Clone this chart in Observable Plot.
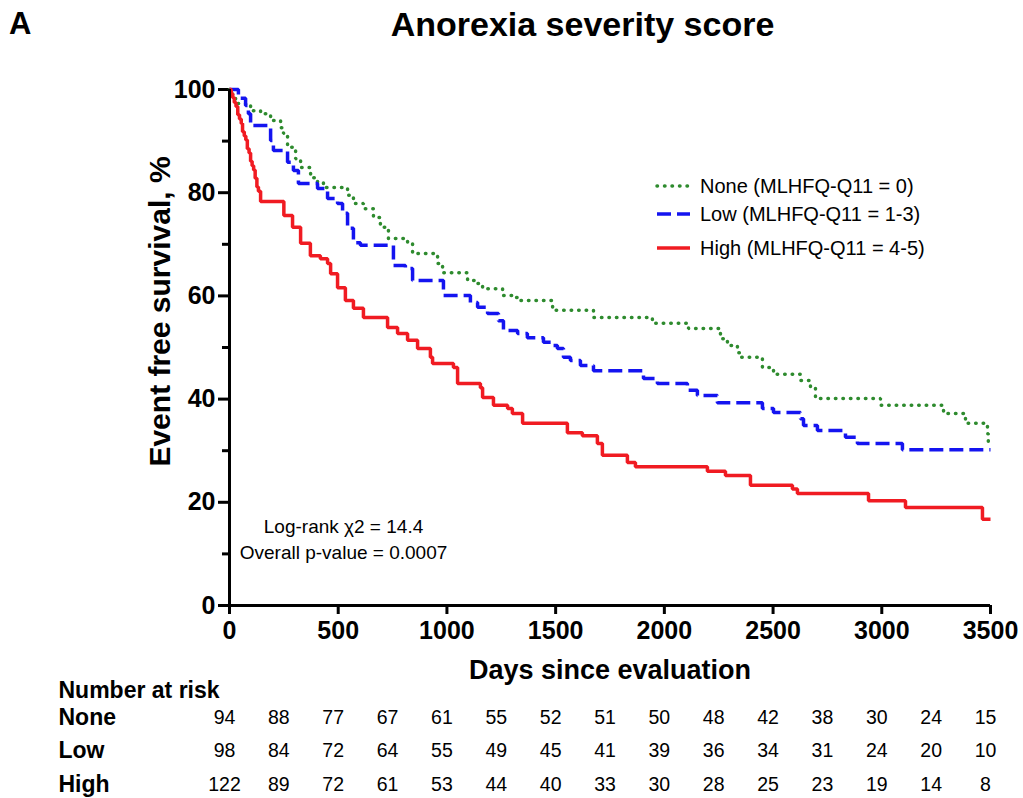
<!DOCTYPE html>
<html>
<head>
<meta charset="utf-8">
<script src="https://cdn.jsdelivr.net/npm/d3@7"></script>
<script src="https://cdn.jsdelivr.net/npm/@observablehq/plot@0.6"></script>
<style>
  body { margin:0; background:#fff; font-family:"Liberation Sans", Arial, sans-serif; }
  #wrap { position:relative; width:1023px; height:798px; overflow:hidden; }
  #head { position:relative; height:60px; }
  #panel { position:absolute; left:9px; top:6px; font-size:31px; font-weight:bold; }
  #title { position:absolute; left:0; width:1165px; top:5px; text-align:center; font-size:34px; font-weight:bold; }
  #legend { position:absolute; left:655px; top:172px; font-size:20px; }
  .lg { position:absolute; left:0; height:28px; display:flex; align-items:center; white-space:nowrap; }
  .lg svg { margin-right:9px; }
  svg { display:block; }
</style>
</head>
<body>
<div id="wrap">
  <div id="head"><div id="panel"></div><div id="title"></div></div>
  <div id="main"></div>
  <div id="table"></div>
  <div id="legend"></div>
</div>
<script>
const panelLabel = "A";
const chartTitle = "Anorexia severity score";
const xLabel = "Days since evaluation";
const yLabel = "Event free survival, %";
const annotationLines = ["Log-rank \u03c72 = 14.4", "Overall p-value = 0.0007"];
const seriesNames = ["None", "Low", "High"];
const seriesLabels = ["None (MLHFQ-Q11 = 0)", "Low (MLHFQ-Q11 = 1-3)", "High (MLHFQ-Q11 = 4-5)"];
const seriesColors = ["#2e8b2e", "#1414f0", "#f01b22"];
const seriesDash = ["0.5 7", "14 6", null];

const xTicks = [0, 500, 1000, 1500, 2000, 2500, 3000, 3500];
const yTicks = [0, 20, 40, 60, 80, 100];
const yMinorTicks = [10, 30, 50, 70, 90];

const noneDays = [0,14,28,74,97,143,189,235,248,267,304,327,373,405,432,543,570,616,662,694,731,819,842,957,980,1095,1141,1164,1256,1306,1338,1486,1674,1945,2111,2258,2290,2336,2350,2451,2502,2626,2672,2695,2994,3284,3385,3486,3490,3500];
const noneSurv = [100,98.3,97.3,96.9,95.9,95.3,94.0,92.6,91.5,88.8,86.6,84.9,82.9,82.0,81.0,79.5,77.9,76.9,75.2,73.3,71.1,70.2,68.2,66.3,64.5,63.0,62.4,61.4,60.1,59.7,59.1,57.2,55.8,54.7,53.7,51.7,50.4,49.0,48.1,46.1,44.8,43.6,42.2,40.1,38.8,37.2,35.3,33.3,31.0,31.0];

const lowDays = [0,41,74,87,97,189,202,267,294,317,405,451,497,520,543,570,602,754,809,842,984,1108,1141,1187,1237,1260,1325,1370,1444,1490,1508,1536,1568,1614,1674,1904,1968,2106,2152,2244,2451,2502,2626,2640,2704,2833,2888,3095,3500];
const lowSurv = [100,98.3,96.9,95.3,93.0,90.1,88.2,85.9,84.3,81.8,80.8,78.9,77.9,76.0,73.1,70.3,69.8,65.9,65.3,63.0,60.1,58.7,57.8,56.6,55.2,53.3,52.7,51.9,51.0,50.4,49.8,48.1,47.5,46.5,45.5,44.0,43.0,41.7,40.7,39.3,38.2,37.4,36.2,34.9,33.9,32.6,31.4,30.2,30.2];

const highDays = [0,8,15,22,30,38,46,54,60,68,75,82,90,97,104,111,118,126,133,143,250,290,327,372,418,451,465,497,533,570,616,727,773,819,865,924,934,1030,1049,1154,1164,1214,1279,1301,1348,1554,1623,1692,1715,1830,1867,2198,2281,2396,2589,2612,2939,3109,3463,3500];
const highSurv = [100,99.2,98.4,97.5,96.7,95.1,94.3,93.4,91.8,91.0,90.2,88.5,87.7,86.1,85.2,84.4,82.8,81.1,80.3,78.3,75.6,73.3,70.2,67.8,67.2,66.3,64.3,61.6,59.1,57.6,55.8,53.9,52.7,51.4,49.8,48.1,46.9,46.1,43.0,42.2,40.3,38.8,38.2,37.2,35.3,33.5,32.9,31.4,29.1,27.7,26.9,26.0,25.2,23.3,22.6,21.7,20.3,19.0,16.7,16.7];

const riskHeader = "Number at risk";
const riskDays = [0,250,500,750,1000,1250,1500,1750,2000,2250,2500,2750,3000,3250,3500];
const noneRisk = [94,88,77,67,61,55,52,51,50,48,42,38,30,24,15];
const lowRisk = [98,84,72,64,55,49,45,41,39,36,34,31,24,20,10];
const highRisk = [122,89,72,61,53,44,40,33,30,28,25,23,19,14,8];

document.getElementById("panel").textContent = panelLabel;
document.getElementById("title").textContent = chartTitle;

const curves = [[noneDays, noneSurv], [lowDays, lowSurv], [highDays, highSurv]].map(([ds, ss], i) =>
  ds.map((d, j) => ({group: seriesNames[i], day: d, surv: ss[j]})));

const font = "Liberation Sans, Arial, sans-serif";

const main = Plot.plot({
  width: 1023, height: 622,
  marginTop: 29, marginBottom: 77, marginLeft: 229, marginRight: 33,
  style: {fontFamily: font, color: "#000", background: "#fff", overflow: "visible"},
  x: {domain: [0, 3500]},
  y: {domain: [0, 100]},
  marks: [
    Plot.axisY({ticks: yMinorTicks, tickSize: 7, tickFormat: () => "", strokeWidth: 3, label: null}),
    Plot.axisY({ticks: yTicks, tickSize: 11, tickPadding: 3, tickFormat: d => String(d), fontSize: 25, fontWeight: "bold", strokeWidth: 3, label: null}),
    Plot.axisX({ticks: xTicks, tickSize: 9, tickPadding: 7, tickFormat: d => String(d), fontSize: 25, fontWeight: "bold", strokeWidth: 3, label: null}),
    Plot.text([xLabel], {frameAnchor: "bottom", dy: 65, lineAnchor: "middle", fontSize: 27, fontWeight: "bold", fill: "#000"}),
    Plot.text([yLabel], {frameAnchor: "left", dx: -69, dy: -36, rotate: -90, textAnchor: "middle", lineAnchor: "middle", fontSize: 30, fontWeight: "bold", fill: "#000"}),
    ...curves.map((c, i) => Plot.line(c, {
      x: "day", y: "surv", curve: "step-after",
      stroke: seriesColors[i], strokeWidth: 3.5,
      strokeDasharray: seriesDash[i],
      strokeLinecap: i === 0 ? "round" : "butt",
      strokeLinejoin: "miter"
    })),
    Plot.ruleX([0], {strokeWidth: 3}),
    Plot.ruleY([0], {strokeWidth: 3}),
    Plot.text([annotationLines.join("\n")], {
      frameAnchor: "bottom-left", dx: 114, dy: -47, textAnchor: "middle", lineAnchor: "bottom",
      fontSize: 19, lineHeight: 1.35, fill: "#000"
    })
  ]
});
document.getElementById("main").appendChild(main);

const riskRows = [noneRisk, lowRisk, highRisk].flatMap((arr, i) =>
  arr.map((n, j) => ({row: i, day: riskDays[j], n})));

const table = Plot.plot({
  width: 1023, height: 116,
  marginTop: 0, marginBottom: 0, marginLeft: 229, marginRight: 33,
  style: {fontFamily: font, color: "#000", background: "#fff", overflow: "visible"},
  x: {domain: [0, 3500], axis: null},
  y: {domain: [0, 2], range: [35, 102], axis: null},
  marks: [
    Plot.text(riskRows, {x: "day", y: "row", text: d => String(d.n), dx: -5, fontSize: 19.5, fill: "#000"}),
    Plot.text(seriesNames.map((s, i) => ({s, i})), {y: "i", text: "s", frameAnchor: "left", dx: -171, textAnchor: "start", fontSize: 23, fontWeight: "bold", fill: "#000"}),
    Plot.text([riskHeader], {frameAnchor: "top-left", dx: -171, dy: 8, lineAnchor: "middle", textAnchor: "start", fontSize: 23, fontWeight: "bold", fill: "#000"})
  ]
});
document.getElementById("table").appendChild(table);

const legend = document.getElementById("legend");
const rowTops = [0, 28, 62];
seriesLabels.forEach((lab, i) => {
  const div = document.createElement("div");
  div.className = "lg";
  div.style.top = rowTops[i] + "px";
  const ns = "http://www.w3.org/2000/svg";
  const s = document.createElementNS(ns, "svg");
  s.setAttribute("width", 36); s.setAttribute("height", 10);
  const l = document.createElementNS(ns, "line");
  l.setAttribute("x1", 2); l.setAttribute("x2", 35); l.setAttribute("y1", 5); l.setAttribute("y2", 5);
  l.setAttribute("stroke", seriesColors[i]); l.setAttribute("stroke-width", 3.5);
  if (seriesDash[i]) l.setAttribute("stroke-dasharray", seriesDash[i]);
  l.setAttribute("stroke-linecap", i === 0 ? "round" : "butt");
  s.appendChild(l);
  const t = document.createElement("span");
  t.textContent = lab;
  div.appendChild(s); div.appendChild(t);
  legend.appendChild(div);
});
</script>
</body>
</html>
